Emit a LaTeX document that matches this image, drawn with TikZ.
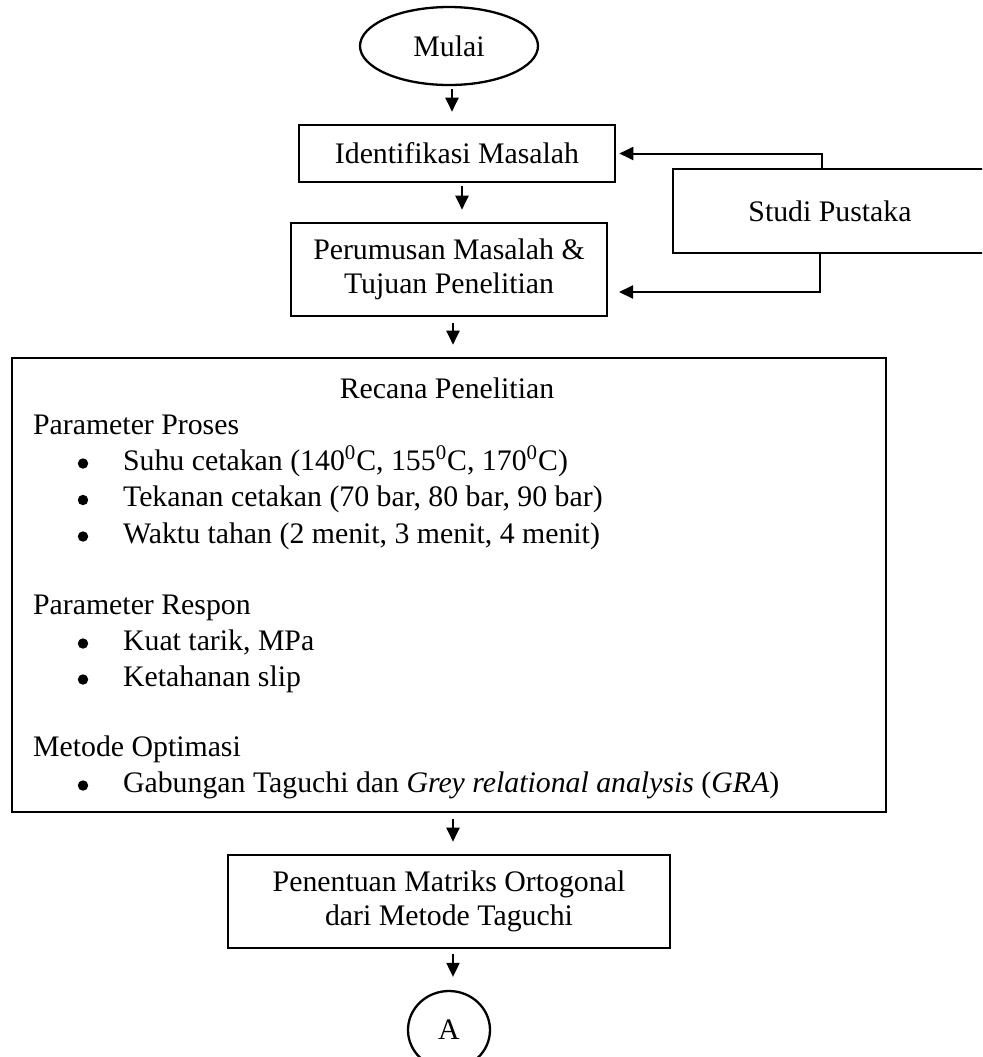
\documentclass[tikz,border=0pt]{standalone}
\usepackage{fontspec}
\setmainfont{Liberation Serif}
\usetikzlibrary{shapes.geometric,arrows.meta,calc}
\begin{document}
\begin{tikzpicture}[x=0.5pt,y=-0.5pt,
  every node/.style={font=\fontsize{14.9}{17}\selectfont},
  box/.style={draw,line width=1.3pt,rectangle,inner sep=0pt,align=center},
  oval/.style={draw,line width=1.15pt,ellipse,inner sep=0pt},
  arr/.style={line width=1pt,-{Triangle[length=7pt,width=6.5pt]}},
  txt/.style={inner sep=0pt,anchor=base west},
  blt/.style={inner sep=0pt,anchor=base},
  dot/.style={circle,fill,inner sep=0pt,minimum size=5.2pt},
]
\useasboundingbox (0,0) rectangle (982,1057);
\clip (0,0) rectangle (982,1057);

\node[oval,minimum width=89pt,minimum height=39pt] (mulai) at (449,46) {Mulai};
\node[box,minimum width=158pt,minimum height=28.5pt] (ident) at (457,153.5) {Identifikasi Masalah};
\node[box,minimum width=158pt,minimum height=46.5pt] (rumus) at (449,269.5) {Perumusan Masalah \&\\Tujuan Penelitian};
\node[box,minimum width=157pt,minimum height=42pt] (studi) at (830,211) {Studi Pustaka};
\node[box,minimum width=437pt,minimum height=227pt] (rencana) at (449,585) {};
\node[box,minimum width=221pt,minimum height=46.5pt] (tentu) at (449,901.5) {Penentuan Matriks Ortogonal\\dari Metode Taguchi};
\node[oval,minimum width=41pt,minimum height=39pt] (A) at (449,1030) {A};

% text inside Recana Penelitian
\node[blt] (t0) at (447,398) {Recana Penelitian};
\node[txt] (pp) at (32.7,434) {Parameter Proses};
\node[dot] (b1) at (83,463.5) {};
\node[txt] (i1) at (122.7,470) {Suhu cetakan (140\textsuperscript{0}C, 155\textsuperscript{0}C, 170\textsuperscript{0}C)};
\node[dot] (b2) at (83,500) {};
\node[txt] (i2) at (122.7,506.5) {Tekanan cetakan (70 bar, 80 bar, 90 bar)};
\node[dot] (b3) at (83,536.5) {};
\node[txt] (i3) at (122.7,543) {Waktu tahan (2 menit, 3 menit, 4 menit)};
\node[txt] (pr) at (32.7,614) {Parameter Respon};
\node[dot] (b4) at (83,643.5) {};
\node[txt] (i4) at (122.7,650) {Kuat tarik, MPa};
\node[dot] (b5) at (83,679.5) {};
\node[txt] (i5) at (122.7,686) {Ketahanan slip};
\node[txt] (mo) at (32.7,756) {Metode Optimasi};
\node[dot] (b6) at (83,785.5) {};
\node[txt] (i6) at (122.7,792) {Gabungan Taguchi dan \textit{Grey relational analysis} (\textit{GRA})};

% vertical connectors
\draw[arr,shorten <=1.5pt,shorten >=6pt] ($(mulai.south)+(3,0)$) -- ($(mulai.south |- ident.north)+(3,0)$);
\draw[arr,shorten <=1.5pt,shorten >=6pt] ($(ident.south)+(5,0)$) -- ($(ident.south |- rumus.north)+(5,0)$);
\draw[arr,shorten <=3pt,shorten >=6pt] ($(rumus.south)+(4,0)$) -- ($(rumus.south |- rencana.north)+(4,0)$);
\draw[arr,shorten <=3pt,shorten >=6pt] ($(rencana.south)+(4,0)$) -- ($(rencana.south |- tentu.north)+(4,0)$);
\draw[arr,shorten <=2.5pt,shorten >=6.5pt] ($(tentu.south)+(4,0)$) -- ($(tentu.south |- A.north)+(4,0)$);

% Studi Pustaka connectors
\draw[arr,shorten >=1.5pt] ($(studi.north)+(-8,0)$) |- (ident.east);
\coordinate (rin) at (619,292);
\draw[arr] ($(studi.south)+(-10,0)$) |- (rin);
\end{tikzpicture}
\end{document}
